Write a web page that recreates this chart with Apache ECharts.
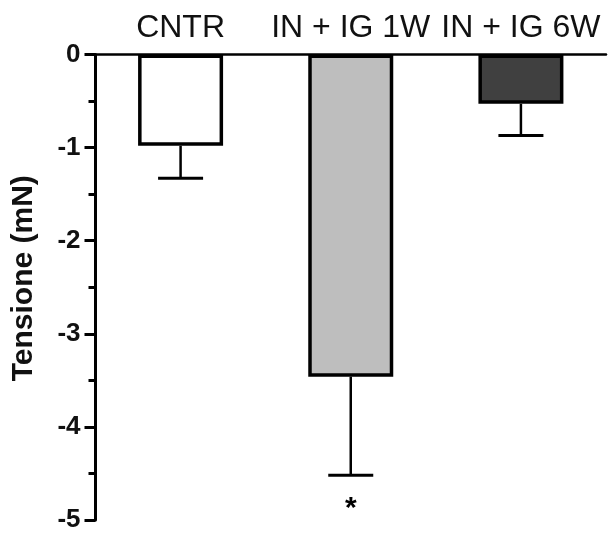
<!DOCTYPE html>
<html>
<head>
<meta charset="utf-8">
<style>
  html, body { margin: 0; padding: 0; background: #fff; }
  #chart { width: 615px; height: 533px; }
</style>
<script src="https://cdn.jsdelivr.net/npm/echarts@6/dist/echarts.min.js"></script>
</head>
<body>
<div id="chart"></div>
<script>
// Group labels, mean tension and SEM per group
const categories = ['CNTR', 'IN + IG 1W', 'IN + IG 6W'];
const means = [-0.98, -3.46, -0.53];
const errors = [0.35, 1.06, 0.34];
const significance = ['', '*', ''];
const barColors = ['#ffffff', '#bebebe', '#404040'];
const yTicks = [0, -1, -2, -3, -4, -5];

const chart = echarts.init(document.getElementById('chart'), null, { renderer: 'canvas' });

const fontFamily = 'Liberation Sans, Arial, sans-serif';

chart.setOption({
  animation: false,
  grid: { left: 95.5, right: 9, top: 54.5, bottom: 9.5, containLabel: false },
  xAxis: {
    type: 'category',
    data: categories,
    position: 'top',
    axisLine: { show: true, onZero: false, lineStyle: { color: '#000', width: 2.5 } },
    axisTick: { show: false },
    axisLabel: { color: '#111', fontSize: 32, fontFamily: fontFamily, margin: 10, interval: 0, hideOverlap: false }
  },
  yAxis: {
    type: 'value',
    min: -5,
    max: 0,
    interval: 1,
    name: 'Tensione (mN)',
    nameLocation: 'middle',
    nameGap: 57,
    nameTextStyle: { color: '#111', fontSize: 30, fontWeight: 'bold', fontFamily: fontFamily, padding: [0, 0, 0, 18] },
    axisLine: { show: true, lineStyle: { color: '#000', width: 3 } },
    axisTick: { show: true, length: 11, lineStyle: { color: '#000', width: 3 } },
    minorTick: { show: true, splitNumber: 2, length: 7, lineStyle: { color: '#000', width: 3 } },
    splitLine: { show: false },
    axisLabel: {
      color: '#111', fontSize: 26, fontWeight: 'bold', fontFamily: fontFamily, margin: 15,
      formatter: function (v) { return yTicks.indexOf(v) >= 0 ? String(v) : ''; }
    }
  },
  series: [
    {
      type: 'bar',
      barWidth: 85,
      data: means.map(function (m, i) {
        return { value: m, itemStyle: { color: barColors[i] } };
      }),
      itemStyle: { borderColor: '#000', borderWidth: 3.5 },
      z: 2
    },
    {
      // error bars hanging below each bar, plus significance marks
      type: 'custom',
      data: means.map(function (m, i) { return [i, m, m - errors[i]]; }),
      z: 1,
      renderItem: function (params, api) {
        const x = api.coord([api.value(0), api.value(1)])[0];
        const yTop = api.coord([api.value(0), api.value(1)])[1];
        const yLow = api.coord([api.value(0), api.value(2)])[1];
        const half = 22.5;
        const children = [
          { type: 'line', shape: { x1: x, y1: yTop, x2: x, y2: yLow }, style: { stroke: '#000', lineWidth: 2.5 } },
          { type: 'line', shape: { x1: x - half, y1: yLow, x2: x + half, y2: yLow }, style: { stroke: '#000', lineWidth: 3 } }
        ];
        const mark = significance[params.dataIndex];
        if (mark) {
          children.push({
            type: 'text',
            style: {
              text: mark, x: x, y: yLow + 18, align: 'center', verticalAlign: 'top',
              fill: '#000', font: 'bold 30px ' + fontFamily
            }
          });
        }
        return { type: 'group', children: children };
      }
    }
  ]
});
</script>
</body>
</html>
